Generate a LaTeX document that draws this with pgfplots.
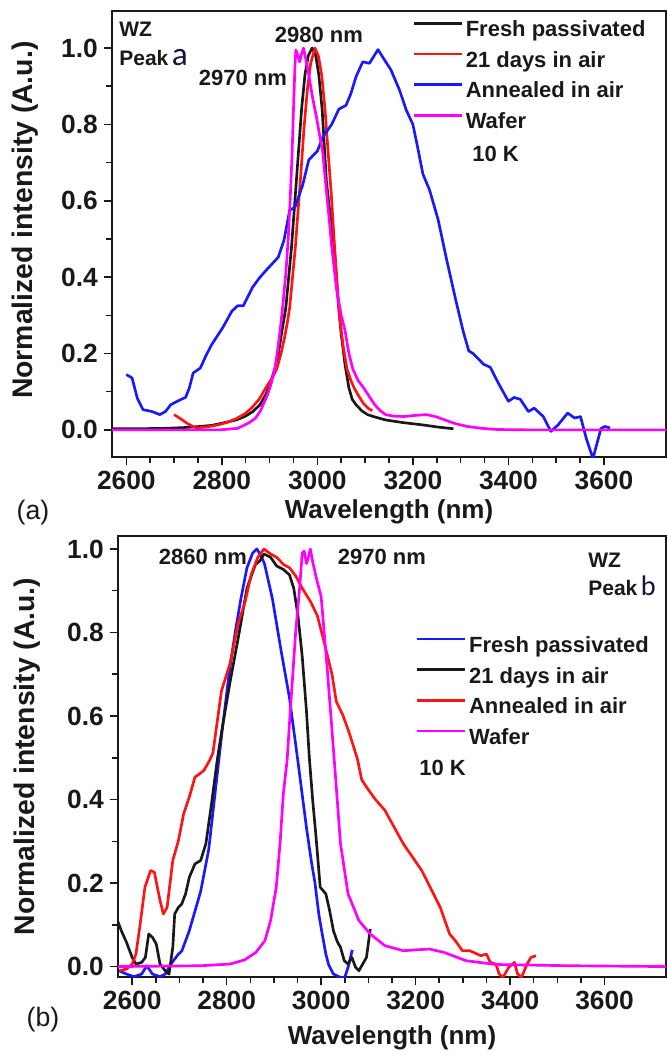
\documentclass[border=0pt]{standalone}
\usepackage{fontspec}
\setmainfont{Liberation Sans}
\newfontfamily\calib{Carlito}
\usepackage{pgfplots}
\pgfplotsset{compat=1.18}
\definecolor{cred}{RGB}{255,20,20}
\definecolor{cblue}{RGB}{25,25,255}
\definecolor{cmag}{RGB}{255,0,255}
\definecolor{ink}{RGB}{25,25,25}
\definecolor{navy}{RGB}{20,20,60}
\pgfplotsset{
 panel/.style={
  scale only axis,
  xmin=2570, xmax=3730,
  xtick={2600,2800,3000,3200,3400,3600},
  minor x tick num=3,
  ytick={0,0.2,0.4,0.6,0.8,1.0},
  minor y tick num=1,
  tick align=outside,
  xtick pos=bottom, ytick pos=left,
  axis line style={line width=1.2pt, ink},
  major tick style={line width=0.9pt, ink},
  minor tick style={line width=0.9pt, ink},
  major tick length=5pt, minor tick length=3.5pt,
  /pgf/number format/assume math mode=true,
  tick label style={font=\fontsize{15.8}{17}\selectfont\bfseries, text=ink},
  xticklabel style={/pgf/number format/set thousands separator={}},
  yticklabel style={/pgf/number format/fixed, /pgf/number format/fixed zerofill, /pgf/number format/precision=1},
  xlabel={Wavelength (nm)},
  ylabel={Normalized intensity (A.u.)},
  xlabel style={font=\fontsize{15.6}{18}\selectfont\bfseries, anchor=center, text=ink},
  ylabel style={font=\fontsize{17}{19}\selectfont\bfseries, anchor=center, text=ink},
  legend style={draw=none, fill=none, inner sep=0pt, outer sep=0pt,
    font=\fontsize{13.2}{15}\selectfont\bfseries, anchor=north west, row sep=3pt,
    nodes={inner sep=1.5pt, text height=9.6pt, text depth=2.8pt, text=ink}},
  legend cell align=left,
  legend image code/.code={\draw[#1] (0pt,4.6pt) -- (29pt,4.6pt);},
  every axis plot/.append style={line width=1.6pt, line join=round},
 }
}
\begin{document}
\begin{tikzpicture}
\useasboundingbox (0,0) rectangle (400.2pt,-633pt);
% ---------------- (a) ----------------
\begin{axis}[panel,
  at={(67.2pt,-6.6pt)}, anchor=north west,
  width=332.4pt, height=267.6pt,
  ymin=-0.071, ymax=1.097,
  xlabel style={at={(axis description cs:0.5,-0.123)}},
  ylabel style={at={(axis description cs:-0.157,0.531)}},
  legend style={at={(axis description cs:0.542,0.984)}},
]
\addplot[ink] table {
2570 0.003
2620 0.003
2680 0.004
2720 0.006
2755 0.009
2780 0.012
2802 0.018
2830 0.026
2848 0.035
2865 0.048
2880 0.066
2893 0.095
2903 0.127
2912 0.165
2918 0.197
2926 0.26
2934 0.32
2940 0.40
2946 0.48
2953 0.60
2960 0.72
2967 0.84
2974 0.93
2981 0.98
2989 1.0
2996 0.985
3003 0.93
3010 0.84
3019 0.65
3027 0.56
3035 0.48
3042 0.36
3050 0.25
3058 0.17
3066 0.11
3073 0.08
3081 0.066
3093 0.05
3105 0.04
3120 0.034
3143 0.026
3180 0.019
3221 0.013
3255 0.007
3285 0.003
};
\addlegendentry{ Fresh passivated}
\addplot[cred] table {
2700 0.04
2715 0.028
2730 0.015
2746 0.005
2770 0.008
2792 0.013
2812 0.02
2831 0.03
2848 0.042
2862 0.057
2878 0.08
2892 0.11
2905 0.135
2915 0.16
2924 0.2
2931 0.24
2937 0.28
2942 0.32
2948 0.40
2954 0.48
2960 0.58
2966 0.68
2972 0.79
2979 0.89
2986 0.96
2995 1.0
3002 0.98
3009 0.93
3016 0.84
3023 0.72
3029 0.62
3035 0.50
3041 0.39
3046 0.30
3054 0.22
3062 0.16
3070 0.13
3077 0.11
3086 0.09
3096 0.07
3106 0.057
3115 0.05
};
\addlegendentry{21 days in air}
\addplot[cblue] table {
2600 0.145
2612 0.136
2623 0.083
2635 0.053
2654 0.048
2670 0.04
2682 0.048
2693 0.066
2713 0.079
2724 0.085
2732 0.11
2740 0.149
2755 0.162
2767 0.195
2779 0.224
2802 0.268
2821 0.311
2833 0.325
2845 0.325
2864 0.373
2880 0.40
2895 0.421
2918 0.452
2930 0.496
2942 0.575
2953 0.583
2969 0.64
2982 0.707
3000 0.73
3012 0.768
3030 0.80
3045 0.84
3060 0.85
3070 0.88
3081 0.925
3095 0.964
3109 0.96
3127 0.996
3140 0.97
3154 0.943
3172 0.89
3186 0.838
3200 0.80
3210 0.74
3221 0.67
3235 0.628
3253 0.55
3271 0.444
3290 0.339
3305 0.26
3317 0.207
3326 0.2
3348 0.172
3362 0.164
3380 0.12
3400 0.075
3412 0.085
3425 0.08
3442 0.048
3454 0.057
3473 0.035
3489 -0.004
3504 0.013
3524 0.044
3539 0.031
3551 0.035
3563 -0.022
3577 -0.075
3594 0.004
3602 0.009
3613 0.005
};
\addlegendentry{Annealed in air}
\addplot[cmag] table {
2570 0.0
2700 0.0
2794 0.0
2833 0.004
2856 0.018
2870 0.03
2880 0.048
2888 0.07
2895 0.09
2903 0.12
2911 0.16
2917 0.21
2922 0.26
2928 0.33
2934 0.41
2939 0.50
2943 0.60
2947 0.72
2950 0.84
2953 0.95
2955 0.995
2958 0.985
2963 0.964
2967 0.985
2971 1.0
2976 0.97
2982 0.93
2990 0.87
2998 0.82
3005 0.77
3011 0.73
3018 0.637
3025 0.55
3030 0.48
3040 0.37
3050 0.30
3058 0.26
3066 0.2
3074 0.16
3085 0.13
3097 0.11
3110 0.085
3120 0.066
3132 0.05
3143 0.04
3160 0.036
3182 0.035
3205 0.038
3229 0.04
3250 0.034
3267 0.026
3290 0.016
3314 0.009
3345 0.004
3376 0.001
3450 0.0
3730 0.0
};
\addlegendentry{Wafer}
\end{axis}
% ---------------- (b) ----------------
\begin{axis}[panel,
  at={(70.8pt,-321.6pt)}, anchor=north west,
  width=328.8pt, height=264.6pt,
  ymin=-0.025, ymax=1.031,
  xlabel style={at={(axis description cs:0.5,-0.138)}},
  ylabel style={at={(axis description cs:-0.166,0.5)}},
  legend style={at={(axis description cs:0.543,0.778)}},
]
\addplot[cblue] table {
2572 -0.01
2588 -0.018
2604 -0.024
2620 -0.018
2631 0.002
2643 -0.018
2659 -0.024
2670 -0.018
2682 0.006
2698 0.03
2705 0.037
2721 0.086
2745 0.18
2762 0.28
2776 0.42
2790 0.56
2805 0.70
2818 0.80
2830 0.88
2843 0.955
2855 0.99
2864 1.0
2872 0.985
2880 0.965
2897 0.88
2915 0.758
2933 0.643
2951 0.49
2969 0.332
2979 0.254
2987 0.2
2995 0.126
3001 0.086
3010 0.03
3016 0.004
3026 -0.018
3041 -0.026
3050 -0.026
3057 -0.002
3066 0.04
};
\addlegendentry{Fresh passivated}
\addplot[ink] table {
2569 0.11
2577 0.086
2588 0.058
2600 0.022
2608 0.006
2620 0.01
2628 0.022
2635 0.078
2643 0.07
2651 0.054
2659 0.006
2670 -0.01
2678 -0.018
2686 0.046
2690 0.126
2698 0.142
2705 0.15
2713 0.174
2721 0.214
2733 0.246
2745 0.254
2756 0.294
2768 0.39
2780 0.494
2789 0.56
2807 0.68
2825 0.79
2843 0.906
2861 0.963
2870 0.971
2879 0.988
2893 0.98
2906 0.959
2920 0.951
2933 0.938
2942 0.906
2951 0.84
2960 0.742
2969 0.611
2975 0.50
2982 0.40
2990 0.30
2998 0.19
3010 0.174
3018 0.134
3026 0.086
3034 0.06
3041 0.046
3049 0.014
3057 0.006
3065 0.022
3073 -0.002
3080 -0.01
3088 0.006
3096 0.022
3104 0.09
};
\addlegendentry{21 days in air}
\addplot[cred] table {
2573 -0.01
2588 -0.006
2600 0.006
2608 0.03
2616 0.094
2627 0.19
2639 0.23
2647 0.226
2659 0.158
2666 0.126
2674 0.142
2686 0.254
2698 0.302
2709 0.366
2721 0.406
2733 0.454
2741 0.46
2752 0.47
2764 0.494
2771 0.512
2789 0.66
2807 0.725
2825 0.824
2839 0.873
2852 0.939
2866 0.98
2879 1.0
2893 0.988
2906 0.98
2920 0.963
2933 0.955
2947 0.934
2960 0.906
2978 0.873
2992 0.84
3005 0.783
3023 0.70
3032 0.635
3046 0.602
3059 0.561
3068 0.529
3077 0.496
3086 0.447
3099 0.425
3115 0.40
3135 0.374
3174 0.294
3213 0.23
3252 0.142
3272 0.078
3284 0.062
3299 0.038
3315 0.038
3330 0.03
3338 0.026
3350 0.03
3358 0.01
3370 0.006
3377 -0.018
3385 -0.026
3397 -0.002
3409 0.01
3416 -0.018
3424 -0.026
3436 0.006
3444 0.022
3455 0.026
};
\addlegendentry{Annealed in air}
\addplot[cmag] table {
2569 0.0
2745 0.002
2807 0.006
2838 0.016
2862 0.034
2881 0.062
2893 0.11
2905 0.19
2913 0.294
2920 0.414
2928 0.494
2934 0.60
2946 0.80
2954 0.90
2960 0.99
2964 0.995
2969 0.965
2973 0.98
2977 1.0
2982 0.97
2989 0.934
3000 0.886
3012 0.726
3023 0.566
3031 0.446
3041 0.294
3057 0.174
3080 0.11
3104 0.078
3135 0.05
3174 0.038
3200 0.04
3229 0.042
3260 0.034
3307 0.014
3370 0.005
3526 0.002
3730 0.0
};
\addlegendentry{Wafer}
\end{axis}
% ---------------- annotations ----------------
\begin{scope}[every node/.style={inner sep=0pt, text=ink}]
\node[anchor=base west, font=\fontsize{12.6}{14}\selectfont\bfseries] at (71.4pt,-21.9pt) {WZ};
\node[anchor=base west, font=\fontsize{12.6}{14}\selectfont\bfseries] at (71.4pt,-39pt) {Peak\,{\calib\mdseries\fontsize{20}{22}\selectfont\color{navy}a}};
\node[font=\fontsize{13.2}{15}\selectfont\bfseries] at (191.4pt,-20.7pt) {2980 nm};
\node[font=\fontsize{13.2}{15}\selectfont\bfseries] at (145.8pt,-46.5pt) {2970 nm};
\node[anchor=base west, font=\fontsize{13.2}{15}\selectfont\bfseries] at (283.2pt,-96.6pt) {10 K};
\node[font=\fontsize{16}{18}\selectfont] at (19.8pt,-307.8pt) {(a)};
\node[font=\fontsize{13.2}{15}\selectfont\bfseries] at (121.8pt,-334.2pt) {2860 nm};
\node[font=\fontsize{13.2}{15}\selectfont\bfseries] at (229.2pt,-334.2pt) {2970 nm};
\node[anchor=base west, font=\fontsize{12.6}{14}\selectfont\bfseries] at (352.8pt,-340.2pt) {WZ};
\node[anchor=base west, font=\fontsize{12.6}{14}\selectfont\bfseries] at (352.8pt,-357pt) {Peak\,{\calib\mdseries\fontsize{17}{19}\selectfont\color{navy}b}};
\node[anchor=base west, font=\fontsize{13.2}{15}\selectfont\bfseries] at (251.4pt,-465pt) {10 K};
\node[font=\fontsize{16}{18}\selectfont] at (25.8pt,-612pt) {(b)};
\end{scope}
\end{tikzpicture}
\end{document}
